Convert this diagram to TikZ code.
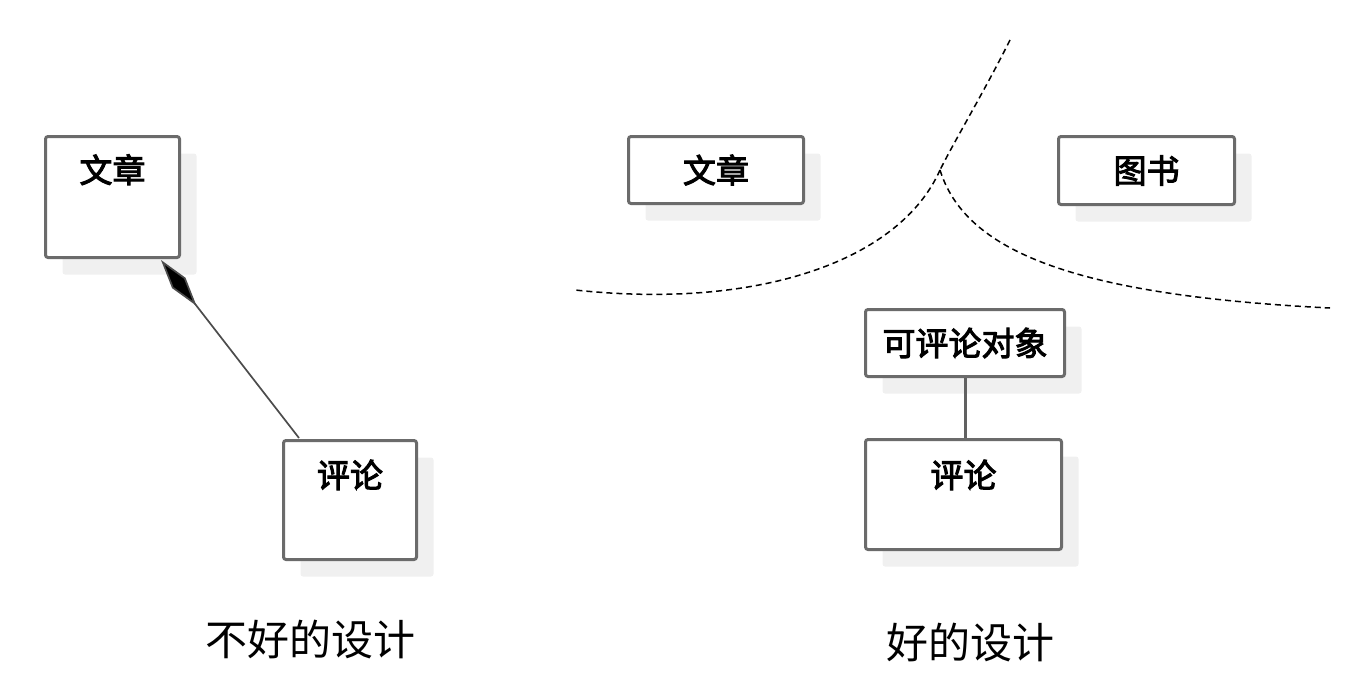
\documentclass[tikz,border=0pt]{standalone}
\usepackage{fontspec}
\newfontfamily\cjk{Noto Sans CJK SC}
\newfontfamily\cjkm[FakeBold=3]{Noto Sans CJK SC}
\usetikzlibrary{arrows.meta,shadows}
\begin{document}
\begin{tikzpicture}[x=1pt,y=-1pt,
  umlbox/.style={draw=black!58, line width=3pt, rounded corners=2.5pt, fill=white,
    general shadow={fill=black!6, shadow xshift=17pt, shadow yshift=-17pt},
    inner sep=0pt, font=\cjkm\fontsize{33}{36}\selectfont, anchor=north west},
  caption/.style={font=\cjk\fontsize{42}{46}\selectfont, inner sep=0pt},
  dashcurve/.style={line width=1.5pt, dash pattern=on 6pt off 4pt},
  link/.style={draw=black!70, line width=1.7pt}]
\useasboundingbox (0,0) rectangle (1354,678);
% bad design
\node[umlbox, minimum width=134pt, minimum height=121pt, text height=46pt, text depth=75pt] (lart) at (44,135) {文章};
\node[umlbox, minimum width=133pt, minimum height=119pt, text height=47pt, text depth=72pt] (lcom) at (282,439) {评论};
\coordinate (dtip) at ([xshift=-20pt,yshift=-1pt]lart.south east);
\draw[link, {Diamond[length=58pt, width=17pt, fill=black]}-] (dtip) -- ([xshift=17pt,yshift=1pt]lcom.north west);
\node[caption] (bad) at (310,640) {不好的设计};
% good design
\node[umlbox, minimum width=175pt, minimum height=67pt] (rart) at (627,135) {文章};
\node[umlbox, minimum width=176pt, minimum height=68pt] (book) at (1057,135) {图书};
\node[umlbox, minimum width=199pt, minimum height=67pt] (able) at (864,308) {可评论对象};
\node[umlbox, minimum width=196pt, minimum height=110pt, text height=48pt, text depth=62pt] (rcom) at (864,438) {评论};
\draw[link, line width=3pt, draw=black!62] (able.south) -- (able.south |- rcom.north);
\node[caption] (good) at (970,643) {好的设计};
% dashed boundaries
\coordinate (top) at (1010,40);
\coordinate (junc) at (940,170);
\coordinate (lend) at (575,290);
\coordinate (rend) at (1330,308);
\draw[dashcurve] (top) .. controls (985,90) and (955,140) .. (junc);
\draw[dashcurve] (junc) .. controls (900,260) and (760,310) .. (lend);
\draw[dashcurve] (junc) .. controls (965,250) and (1070,295) .. (rend);
\end{tikzpicture}
\end{document}
